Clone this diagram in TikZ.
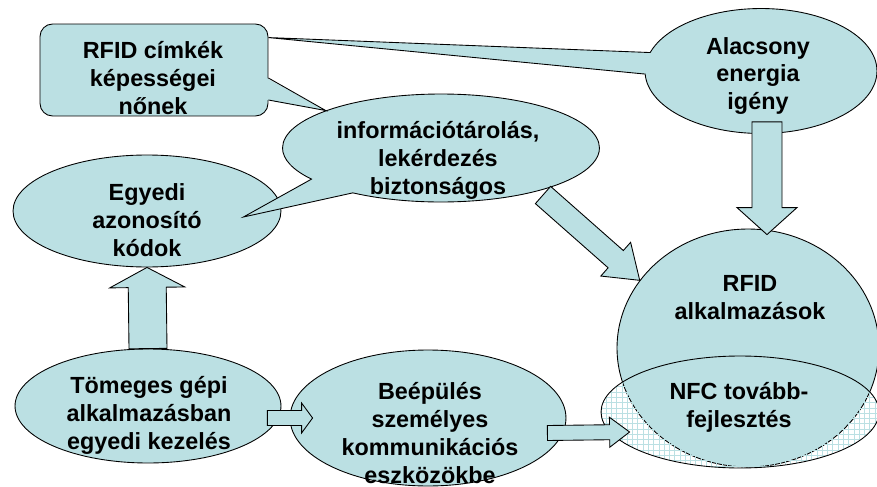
\documentclass[tikz,border=0pt]{standalone}
\usepackage{fontspec}
\setmainfont{Liberation Sans}
\usetikzlibrary{positioning,calc,shapes.geometric,shapes.callouts,patterns}
\definecolor{BubbleBlue}{HTML}{BBE0E3}
\tikzset{
    bubble/.style={ellipse, draw=black, fill=BubbleBlue, line width=0.5pt, inner sep=0pt},
    speech/.style={ellipse callout, draw=black, fill=BubbleBlue, line width=0.5pt, inner sep=0pt},
    txt/.style={align=center, inner sep=0pt, font=\fontsize{13.3}{15.9}\selectfont\bfseries},
    blockarrow/.style={draw=black, fill=BubbleBlue, line width=0.5pt, line join=miter}
}
% vastag nyil: #1 kezdet, #2 hegy, #3 fel szar, #4 fel fej, #5 fej hossza
\newcommand{\fatarrow}[5]{%
    \path ($(#2)!#5!(#1)$) coordinate (hb);
    \draw[blockarrow] ($(#1)!#3!90:(#2)$) -- ($(hb)!#3!-90:(#1)$) -- ($(hb)!#4!-90:(#1)$) -- (#2)
        -- ($(hb)!#4!90:(#1)$) -- ($(hb)!#3!90:(#1)$) -- ($(#1)!#3!-90:(#2)$) -- cycle;
}

\begin{document}
\begin{tikzpicture}[x=0.02cm, y=-0.02cm]
    \path[use as bounding box] (0,0) rectangle (877,487);
    \clip (0,0) rectangle (877,487);

    % --- BUBOREKOK ---
    \node[bubble, minimum width=5.36cm, minimum height=2.24cm] (egyedi) at (147,211) {};
    \coordinate (infoptr) at ([shift={(-38,6)}]egyedi.east);
    \node[speech, minimum width=6.34cm, minimum height=2.16cm,
        callout absolute pointer={(infoptr)}, callout pointer arc=21] (info) at (441,148) {};
    \node[rectangle, draw=black, fill=BubbleBlue, line width=0.5pt, inner sep=0pt,
        rounded corners=0.25cm, minimum width=4.56cm, minimum height=1.84cm] (cimkek) at (154,70) {};
    % a cimke nyelve az info buborekhoz
    \coordinate (c1) at ([shift={(0,8)}]cimkek.east);
    \coordinate (c2) at ([shift={(0,30)}]cimkek.east);
    \fill[BubbleBlue] ([xshift=-1pt]c1) -- (info.162) -- ([xshift=-1pt]c2) -- cycle;
    \draw[line width=0.5pt, line join=miter] (c1) -- (info.162) -- (c2);
    \coordinate (cimkekptr) at ([shift={(0,14)}]cimkek.north east);
    \node[speech, minimum width=4.64cm, minimum height=2.5cm,
        callout absolute pointer={(cimkekptr)}, callout pointer arc=20] (alacsony) at (761,71) {};

    \node[bubble, minimum width=5.32cm, minimum height=2.28cm] (tomeges) at (148,406) {};
    \node[bubble, minimum width=5.52cm, minimum height=2.72cm] (beepules) at (428,418) {};
    \node[bubble, minimum width=5.24cm, minimum height=4.76cm] (rfid) at (748,348) {};
    \node[ellipse, draw=black, line width=0.5pt, inner sep=0pt, pattern=grid, pattern color=BubbleBlue,
        minimum width=5.56cm, minimum height=2.24cm] (nfc) at (740,412) {};

    % --- SZOVEGEK ---
    \node[txt] (cimkektxt) at (153,78) {RFID címkék\\képességei\\nőnek};
    \node[txt] (infotxt) at (438,160) {információtárolás,\\lekérdezés\\biztonságos};
    \node[txt] (alacsonytxt) at (758,76) {Alacsony\\energia\\igény};
    \node[txt] (egyeditxt) at (147,220) {Egyedi\\azonosító\\kódok};
    \node[txt] (tomegestxt) at (149,415) {Tömeges gépi\\alkalmazásban\\egyedi kezelés};
    \node[txt] (beepulestxt) at (430,433) {Beépülés\\személyes\\kommunikációs\\eszközökbe};
    \node[txt] (rfidtxt) at (750,298) {RFID\\alkalmazások};
    \node[txt] (nfctxt) at (739,407) {NFC tovább-\\fejlesztés};

    % --- NYILAK ---
    \coordinate (a1) at ([shift={(6,-12)}]alacsony.south);
    \coordinate (a2) at ([shift={(19,6)}]rfid.north);
    \fatarrow{a1}{a2}{0.3cm}{0.6cm}{0.54cm}
    \coordinate (b1) at ([shift={(102,47)}]info.center);
    \fatarrow{b1}{rfid.148}{0.23cm}{0.45cm}{0.64cm}
    \fatarrow{tomeges.north}{egyedi.south}{0.38cm}{0.75cm}{0.4cm}
    \coordinate (d1) at ([shift={(-14,12)}]tomeges.east);
    \coordinate (d2) at ([shift={(23,0)}]beepules.west);
    \fatarrow{d1}{d2}{0.15cm}{0.3cm}{0.22cm}
    \coordinate (e1) at ([shift={(-19,15)}]beepules.east);
    \coordinate (e2) at ([shift={(29,20)}]nfc.west);
    \fatarrow{e1}{e2}{0.15cm}{0.3cm}{0.4cm}
\end{tikzpicture}
\end{document}
